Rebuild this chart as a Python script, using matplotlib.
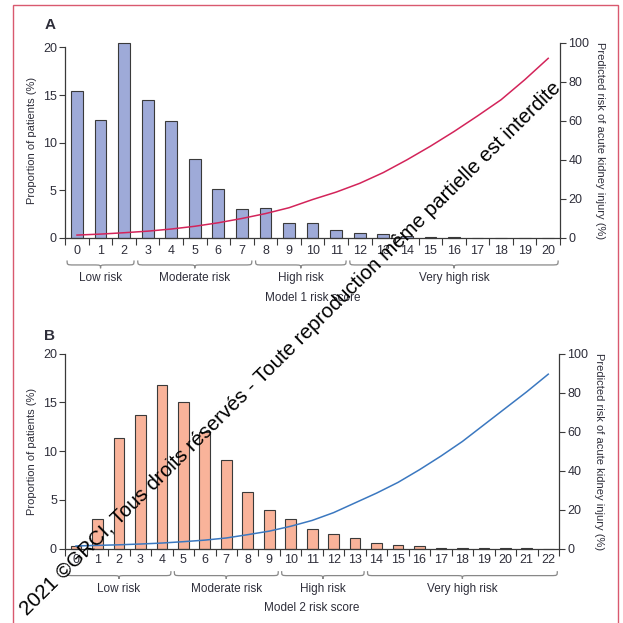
import matplotlib
matplotlib.use('Agg')
import matplotlib.pyplot as plt
from matplotlib.path import Path
from matplotlib.patches import PathPatch, Rectangle
import numpy as np

plt.rcParams['font.family'] = ['Liberation Sans Narrow', 'Liberation Sans', 'DejaVu Sans']

# Panel A: model 1
scores1 = list(range(21))
prop1 = [15.45, 12.37, 20.46, 14.47, 12.26, 8.3, 5.15, 3.05, 3.19, 1.58, 1.58,
         0.84, 0.49, 0.38, 0.25, 0.12, 0.12, 0, 0, 0, 0]
risk1 = [1.5, 2.0, 2.7, 3.5, 4.6, 6.0, 7.8, 10.0, 12.5, 15.5, 19.7,
         23.5, 28.0, 33.5, 40.0, 47.0, 54.5, 62.5, 70.8, 81.0, 92.0]
groups1 = [('Low risk', 0, 2), ('Moderate risk', 3, 7),
           ('High risk', 8, 11), ('Very high risk', 12, 20)]

# Panel B: model 2
scores2 = list(range(23))
prop2 = [0.3, 3.0, 11.4, 13.75, 16.8, 15.0, 11.95, 9.1, 5.85, 3.97, 3.0,
         2.05, 1.47, 1.1, 0.62, 0.38, 0.25, 0.1, 0.1, 0.1, 0.1, 0.1, 0]
risk2 = [1.4, 1.7, 2.0, 2.4, 2.9, 3.6, 4.4, 5.5, 7.2, 9.0, 11.5, 14.5,
         18.5, 23.5, 28.5, 34.0, 40.5, 47.5, 55.0, 63.5, 72.0, 80.5, 89.5]
groups2 = [('Low risk', 0, 4), ('Moderate risk', 5, 9),
           ('High risk', 10, 13), ('Very high risk', 14, 22)]

TXT = '#2e2e3a'
EDGE = '#3a3a3a'


def brace(ax, x1, x2, y_top, y_line, y_tip, r=0.3):
    xm = (x1 + x2) / 2
    verts = [(x1, y_top), (x1, y_line), (x1, y_line), (x1 + r, y_line),
             (xm - r, y_line),
             (xm, y_line), (xm, y_line), (xm, y_tip),
             (xm, y_line), (xm, y_line), (xm + r, y_line),
             (x2 - r, y_line),
             (x2, y_line), (x2, y_line), (x2, y_top)]
    codes = [Path.MOVETO, Path.CURVE4, Path.CURVE4, Path.CURVE4,
             Path.LINETO,
             Path.CURVE4, Path.CURVE4, Path.CURVE4,
             Path.CURVE4, Path.CURVE4, Path.CURVE4,
             Path.LINETO,
             Path.CURVE4, Path.CURVE4, Path.CURVE4]
    p = PathPatch(Path(verts, codes), transform=ax.get_xaxis_transform(),
                  fill=False, edgecolor='#888888', lw=0.9, clip_on=False)
    ax.add_patch(p)


def panel(rect, scores, prop, risk, groups, bar_c, line_c, ytop, letter, xlab, tpad):
    ax = fig.add_axes(rect)
    ax.set_facecolor('none')
    ax.bar(scores, prop, width=0.5, color=bar_c, edgecolor=EDGE, lw=0.8,
           zorder=2, clip_on=False)
    n = len(scores)
    ax.set_xlim(-0.5, n - 0.5)
    ax.set_ylim(0, ytop)
    ax.set_yticks([0, 5, 10, 15, 20])
    ax.spines['left'].set_bounds(0, 20)
    for s in ['top', 'right']:
        ax.spines[s].set_visible(False)
    for s in ['left', 'bottom']:
        ax.spines[s].set_color(EDGE)
        ax.spines[s].set_linewidth(0.9)
    ax.set_xticks(scores)
    ax.set_xticks(np.arange(-0.5, n, 1.0), minor=True)
    ax.tick_params(axis='x', which='major', length=0, pad=tpad,
                   labelsize=9, labelcolor=TXT)
    ax.tick_params(axis='x', which='minor', length=5, width=0.8,
                   color=EDGE, direction='out')
    ax.tick_params(axis='y', length=4, width=0.8, color=EDGE, pad=2,
                   labelsize=9, labelcolor=TXT)
    ax.set_ylabel('Proportion of patients (%)', fontsize=8, color=TXT, labelpad=4)

    ax2 = ax.twinx()
    ax2.plot(scores, risk, color=line_c, lw=1.1, zorder=3)
    ax2.set_ylim(0, 100)
    ax2.set_yticks([0, 20, 40, 60, 80, 100])
    for s in ['top', 'left', 'bottom']:
        ax2.spines[s].set_visible(False)
    ax2.spines['right'].set_color(EDGE)
    ax2.spines['right'].set_linewidth(0.9)
    ax2.tick_params(axis='y', length=4, width=0.8, color=EDGE, pad=2,
                    labelsize=9, labelcolor=TXT)
    ax2.set_ylabel('Predicted risk of acute kidney injury (%)', fontsize=8,
                   color=TXT, rotation=-90, labelpad=11)

    for name, a, b in groups:
        brace(ax, a - 0.42, b + 0.42, -0.115, -0.138, -0.155)
        ax.text((a + b) / 2, -0.205, name, transform=ax.get_xaxis_transform(),
                ha='center', va='center', fontsize=8.5, color=TXT)
    ax.text((n - 1) / 2, -0.306, xlab, transform=ax.get_xaxis_transform(),
            ha='center', va='center', fontsize=8.5, color=TXT)
    ax.text(-0.031, 1.09, letter, transform=ax.transAxes, fontsize=11,
            fontweight='bold', color=TXT, ha='center', va='center',
            family=['Liberation Sans', 'DejaVu Sans'])
    return ax


fig = plt.figure(figsize=(6.23, 6.23), dpi=100)

W = 623.0
panel([65.2 / W, 1 - 238 / W, (560 - 65.2) / W, (238 - 42.7) / W],
      scores1, prop1, risk1, groups1, '#9eaad8', '#d3245a', 20.5, 'A',
      'Model 1 risk score', 5)
panel([65.3 / W, 1 - 548.7 / W, (559 - 65.3) / W, (548.7 - 353.7) / W],
      scores2, prop2, risk2, groups2, '#f9b39a', '#3b78c0', 20, 'B',
      'Model 2 risk score', 4)

# frame
fig.patches.append(Rectangle((12.7 / W, -0.05), (617.5 - 12.7) / W, 1.05 - 5 / W,
                             transform=fig.transFigure, fill=False,
                             edgecolor='#d9596f', lw=1.0))

# copyright watermark
fig.text(27 / W, 1 - 616 / W,
         '2021 ©GRCI, Tous droits réservés - Toute reproduction même partielle est interdite',
         rotation=44.6, rotation_mode='anchor', ha='left', va='baseline',
         fontsize=14.8, color='black', family=['Liberation Sans', 'DejaVu Sans'],
         zorder=10)

fig.savefig('out.png', dpi=100)
